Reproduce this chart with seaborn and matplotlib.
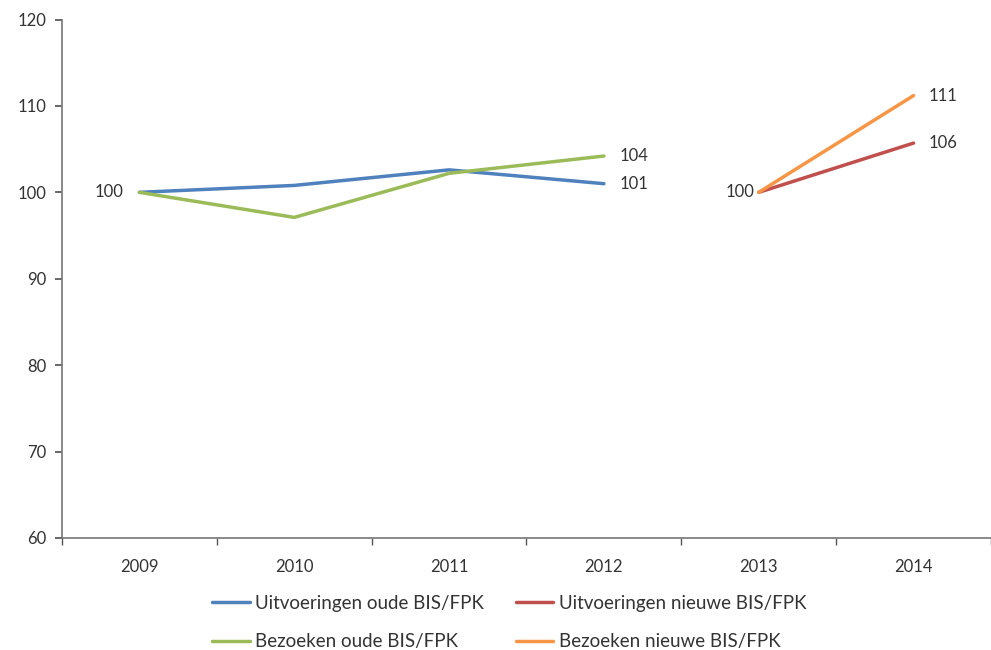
import matplotlib
matplotlib.use("Agg")
import matplotlib.pyplot as plt
import seaborn as sns
import pandas as pd
from matplotlib.lines import Line2D

years = ["2009", "2010", "2011", "2012", "2013", "2014"]
uitv_oud = [100, 100.8, 102.6, 101.0]
bez_oud = [100, 97.1, 102.2, 104.2]
uitv_nieuw = [100, 105.7]
bez_nieuw = [100, 111.2]
series_names = ["Uitvoeringen oude BIS/FPK", "Uitvoeringen nieuwe BIS/FPK",
                "Bezoeken oude BIS/FPK", "Bezoeken nieuwe BIS/FPK"]
colors = ["#4F81BD", "#C0504D", "#9BBB59", "#F79646"]

rows = []
for i, v in enumerate(uitv_oud):
    rows.append((i, v, series_names[0]))
for i, v in enumerate(bez_oud):
    rows.append((i, v, series_names[2]))
for i, v in enumerate(uitv_nieuw):
    rows.append((i + 4, v, series_names[1]))
for i, v in enumerate(bez_nieuw):
    rows.append((i + 4, v, series_names[3]))
df = pd.DataFrame(rows, columns=["x", "value", "series"])

sns.set_theme(style="white")
plt.rcParams["font.family"] = ["Lato", "DejaVu Sans"]

fig = plt.figure(figsize=(9.91, 6.5), dpi=100)
ax = fig.add_axes([62 / 991, 1 - 538 / 650, 1 - 62 / 991, (538 - 19.5) / 650])

palette = dict(zip(series_names, colors))
sns.lineplot(data=df, x="x", y="value", hue="series", palette=palette,
             linewidth=2.5, legend=False, ax=ax, estimator=None, sort=True)

ax.set_xlim(-0.5, 5.42)
ax.set_ylim(60, 120)
ax.set_yticks(range(60, 121, 10))
ax.set_yticklabels([str(v) for v in range(60, 121, 10)], fontsize=12, color="#333333")
ax.set_xticks(range(len(years)))
ax.set_xticklabels(years, fontsize=12, color="#333333")
ax.set_xticks([i + 0.5 for i in range(-1, 6)], minor=True)
ax.tick_params(axis="x", which="major", length=0, pad=15)
ax.tick_params(axis="x", which="minor", length=5, direction="out", color="#555555", bottom=True)
ax.tick_params(axis="y", length=5, direction="out", color="#555555", left=True, pad=6)
for s in ["top", "right"]:
    ax.spines[s].set_visible(False)
for s in ["left", "bottom"]:
    ax.spines[s].set_color("#777777")
    ax.spines[s].set_linewidth(1.2)
ax.set_xlabel("")
ax.set_ylabel("")

lab_kw = dict(fontsize=12, color="#333333", va="center")
ax.text(0 - 0.1, uitv_oud[0], "100", ha="right", **lab_kw)
ax.text(3 + 0.1, bez_oud[3], f"{round(bez_oud[3])}", ha="left", **lab_kw)
ax.text(3 + 0.1, uitv_oud[3], f"{round(uitv_oud[3])}", ha="left", **lab_kw)
ax.text(4 - 0.03, uitv_nieuw[0], "100", ha="right", **lab_kw)
ax.text(5 + 0.1, bez_nieuw[1], f"{round(bez_nieuw[1])}", ha="left", **lab_kw)
ax.text(5 + 0.1, uitv_nieuw[1], f"{round(uitv_nieuw[1])}", ha="left", **lab_kw)

order = [0, 2, 1, 3]
handles = [Line2D([0], [0], color=colors[i], lw=2.5) for i in order]
labels = [series_names[i] for i in order]
fig.legend(handles, labels, ncol=2, loc="center", bbox_to_anchor=(0.514, 0.042),
           frameon=False, fontsize=13.5, handlelength=2.0, handletextpad=0.3,
           columnspacing=1.7, labelspacing=1.15, labelcolor="#333333")

fig.savefig("out.png", dpi=100)
